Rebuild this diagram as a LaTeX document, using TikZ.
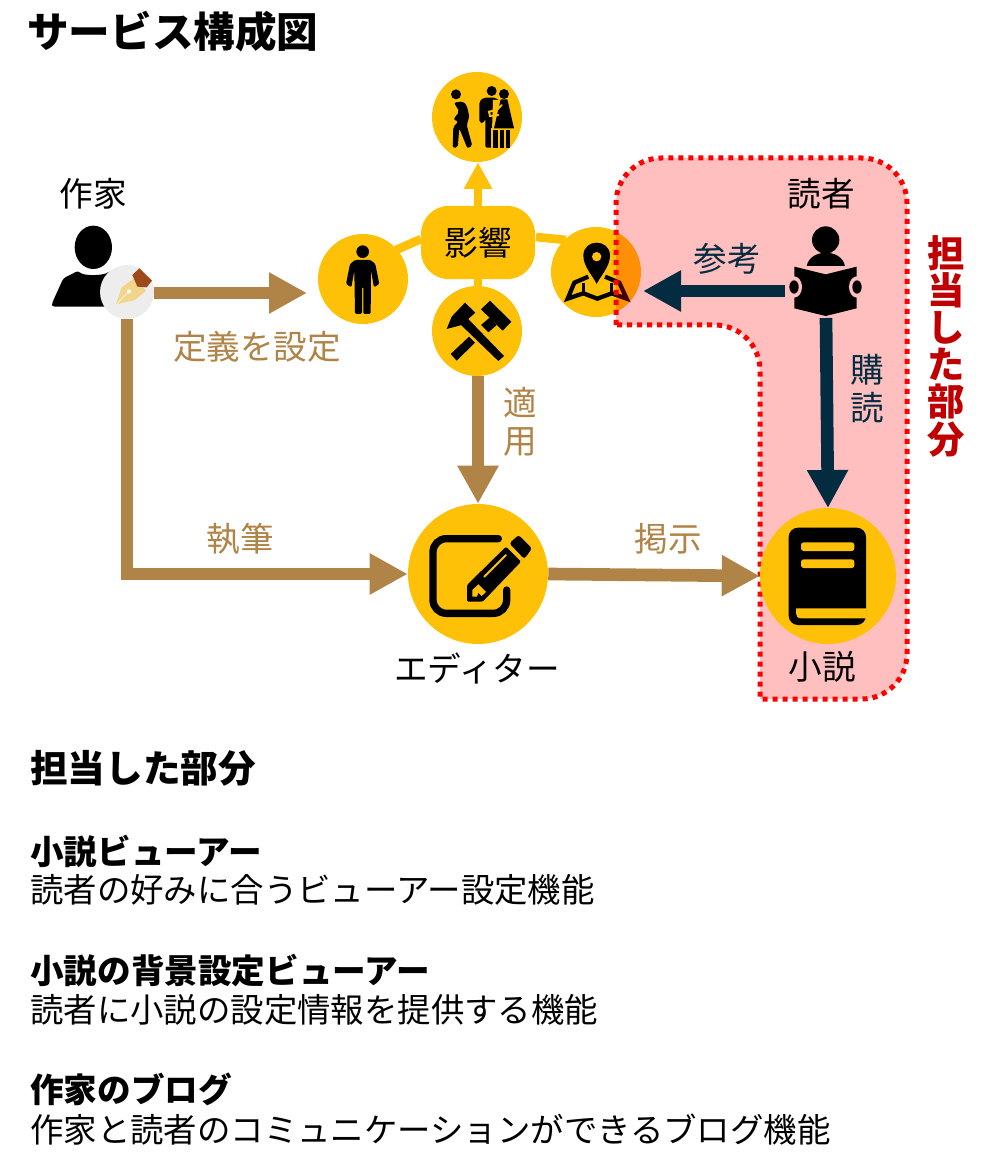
\documentclass[tikz,border=0pt]{standalone}
\usepackage{fontspec}
\setmainfont{Noto Sans CJK JP}
\usetikzlibrary{arrows.meta}
\definecolor{ambr}{HTML}{FFC107}
\definecolor{brn}{HTML}{B08346}
\definecolor{navy}{HTML}{042C40}
\definecolor{dred}{HTML}{C00000}
\definecolor{pinkop}{HTML}{FFBFBF}
\tikzset{
  disc/.style={circle,fill=ambr,inner sep=0pt,minimum size=67.5pt},
  brnline/.style={draw=brn,line width=9.5pt,-{Triangle[length=28.5pt,width=29pt]}},
  navline/.style={draw=navy,line width=9.5pt,-{Triangle[length=28.5pt,width=29pt]}},
  ambline/.style={draw=ambr,line width=6.5pt},
  lbl/.style={font=\fontsize{25.2pt}{28.5pt}\selectfont,inner sep=0pt,align=center},
  body/.style={font=\fontsize{25.05pt}{28pt}\selectfont,inner sep=0pt,anchor=west},
  sub/.style={font=\fontsize{25.2pt}{30pt}\selectfont\bfseries,inner sep=0pt,anchor=west},
  crop/.style={x=0.25pt,y=-0.25pt}
}
\begin{document}
\begin{tikzpicture}[x=0.75pt,y=-0.75pt]
\useasboundingbox (0,0) rectangle (984,1176);
% title
\node[font=\fontsize{31.2pt}{36pt}\selectfont\bfseries,inner sep=0pt,anchor=west] (title) at (27,32) {サービス構成図};
% discs under the highlight
\node[disc] (people) at (477,117) {};
\node[disc] (person) at (363,279) {};
\node[disc] (tools) at (477,331) {};
\node[disc] (map) at (596,272) {};
\node[fill=ambr,rounded corners=21pt,minimum width=85.5pt,minimum height=55pt,inner sep=0pt,font=\fontsize{25.2pt}{29pt}\selectfont] (infl) at (478,242.5) {影響};
\coordinate (infA) at (396,250);
\coordinate (infB) at (421,239);
\coordinate (infC) at (536,237);
\coordinate (infD) at (566,240);
\draw[ambline] (infA) -- (infB);
\draw[ambline] (infC) -- (infD);
\draw[ambline] (infl.south) -- (infl.south |- tools.north);
\draw[draw=ambr,line width=6.5pt,-{Triangle[length=20pt,width=20pt]}] (infl.north) -- (infl.north |- people.south);
% people icon
\begin{scope}[shift={(310,60)},crop]
\fill (438,103) circle (15);
\fill[rounded corners=1.5pt] (432,128) -- (458,124) -- (470,135) -- (478,170) -- (470,195) -- (487,258) -- (472,265) -- (448,205) -- (443,263) -- (428,263) -- (430,200) -- (445,185) -- (430,178) -- (448,155) -- cycle;
\fill (545,93) circle (15);
\fill (582,102) circle (15);
\fill[rounded corners=1.5pt] (508,188) -- (508,125) -- (520,113) -- (558,113) -- (570,125) -- (560,210) -- (563,263) -- (526,263) -- (526,175) -- (521,190) -- cycle;
\fill[ambr] (549,120) -- (546,212) -- (604,212) -- (604,205) -- (590,120) -- cycle;
\fill (572,118) -- (592,118) -- (612,205) -- (552,205) -- cycle;
\fill[ambr] (544,205) rectangle (548,263);
\fill (569,210) rectangle (581,263);
\fill (588,210) rectangle (600,263);
\fill (550,210) rectangle (563,263);
\draw[ambr,line width=1.5pt,line cap=round] (575,135) -- (560,150) -- (537,155) -- (540,168) -- (565,165);
\end{scope}
% person icon
\begin{scope}[shift={(310,60)},crop]
\fill (158,575) circle (19);
\fill[rounded corners=1pt] (135,600) -- (182,600) -- (196,612) -- (208,672) -- (192,682) -- (183,632) -- (182,762) -- (160,762) -- (160,680) -- (156,680) -- (156,762) -- (135,762) -- (133,632) -- (124,682) -- (108,672) -- (120,612) -- cycle;
\end{scope}
% tools icon
\begin{scope}[shift={(310,60)},crop]
\fill (422,882) -- (440,902) -- (495,848) -- (477,830) -- cycle;
\fill (513,795) -- (535,817) -- (560,795) -- (540,772) -- cycle;
\fill (540,722) -- (604,785) -- (578,812) -- (513,748) -- cycle;
\fill (468,770) -- (582,888) -- (565,903) -- (450,792) -- cycle;
\fill (410,807) -- (425,770) -- (465,728) -- (496,758) -- (455,795) -- cycle;
\end{scope}
% map icon
\begin{scope}[shift={(310,60)},crop]
\fill (820,587) .. controls (820,535) and (900,535) .. (900,587) .. controls (900,620) and (870,650) .. (860,672) .. controls (850,650) and (820,620) .. (820,587) -- cycle;
\fill[ambr] (860,590) circle (14);
\draw[line width=3.2pt,line join=miter] (835,650) -- (793,668) -- (773,716) -- (820,700) -- (862,716) -- (905,700) -- (950,716) -- (928,668) -- (885,650);
\draw[line width=2pt] (820,670) -- (820,700);
\draw[line width=2pt] (905,670) -- (905,700);
\end{scope}
% highlighted area
\path[draw=red,line width=3.75pt,dash pattern=on 3.75pt off 3.75pt,fill=red,fill opacity=0.25,draw opacity=1]
  [sharp corners] (616,325) [rounded corners=34pt] -- (616,158) -- (907,158) -- (907,699) [sharp corners] -- (760,699) [rounded corners=34pt] -- (760,325) [sharp corners] -- cycle;
% writer
\node[lbl] (writerlbl) at (93,194) {作家};
\begin{scope}[shift={(30,60)},crop]
\fill (190,562) ellipse (56 and 65);
\fill[rounded corners=2pt] (66,740) -- (66,730) -- (100,655) -- (145,632) .. controls (160,648) and (220,648) .. (240,632) -- (270,655) -- (270,740) -- cycle;
\end{scope}
\node[circle,fill=black!7,inner sep=0pt,minimum size=40.5pt] (pen) at (127,292) {};
\begin{scope}[shift={(30,60)},crop]
\fill[fill={rgb,255:red,240;green,213;blue,138}] (258,733) -- (275,682) -- (312,655) -- (348,692) -- (315,720) -- cycle;
\fill[fill={rgb,255:red,156;green,74;blue,26}] (307,645) -- (328,625) -- (366,662) -- (350,682) -- (322,680) -- cycle;
\fill[white] (297,694) circle (6);
\draw[white,line width=0.4pt] (262,730) -- (297,694);
\end{scope}
% reader
\node[lbl] (readerlbl) at (821,194) {読者};
\begin{scope}[shift={(600,140)},crop]
\fill (677,300) circle (41);
\fill (620,378) .. controls (630,325) and (725,325) .. (735,378) -- cycle;
\fill (583,380) -- (677,403) -- (770,380) -- (770,505) -- (677,528) -- (583,505) -- cycle;
\fill[pinkop] (582,441) ellipse (24 and 32);
\fill[pinkop] (771,441) ellipse (24 and 32);
\fill (582,441) ellipse (14 and 20);
\fill (771,441) ellipse (14 and 20);
\end{scope}
\node[inner sep=0pt,minimum width=57.75pt,minimum height=40.5pt] (reader) at (823.5,291) {};
% editor and book
\node[disc,minimum size=105pt] (editor) at (478,574) {};
\node[disc,minimum size=102pt] (book) at (828,576) {};
\begin{scope}[shift={(391,490)},crop]
\draw[line width=5.5pt,line cap=round,rounded corners=10pt] (322,146) -- (126,146) -- (126,370) -- (347,370) -- (347,300);
\fill[rounded corners=1pt] (228,335) -- (228,285) -- (345,170) -- (390,215) -- (275,335) -- cycle;
\fill[rounded corners=2pt] (355,160) -- (383,135) -- (423,175) -- (400,207) -- cycle;
\draw[ambr,line width=1.5pt,line cap=round] (280,260) -- (345,195);
\fill[ambr] (244,300) -- (262,283) -- (285,306) -- (272,318) -- (262,308) -- (258,320) -- (244,320) -- cycle;
\end{scope}
\begin{scope}[shift={(396,490)},crop]
\fill[rounded corners=7pt] (1178,113) rectangle (1410,405);
\fill[ambr,rounded corners=2pt] (1215,157) rectangle (1375,183);
\fill[ambr,rounded corners=2pt] (1215,208) rectangle (1375,234);
\fill[ambr] (1200,355) -- (1412,355) -- (1412,385) -- (1215,385) .. controls (1205,385) and (1200,378) .. (1200,370) -- cycle;
\end{scope}
% connectors
\coordinate (p1end) at (307,293);
\coordinate (p1start) at (154,293);
\draw[brnline] (p1start) -- (p1end);
\draw[brnline,line join=miter] (pen.south) |- (editor.west);
\draw[brnline] (editor.north |- tools.south) -- (editor.north);
\draw[brnline] (editor.east) -- (book.west);
\coordinate (mapend) at (643,291);
\coordinate (bookend) at (828,508);
\coordinate (readbot) at (826,318);
\draw[navline] (reader.west) -- (mapend);
\draw[navline] (readbot) -- (bookend);
% labels
\node[lbl,text=brn] (l1) at (257,347) {定義を設定};
\node[lbl,text=brn] (l2) at (520,422) {適\\用};
\node[lbl,text=brn] (l3) at (240,539) {執筆};
\node[lbl,text=brn] (l4) at (668,539) {掲示};
\node[lbl,text=navy] (l5) at (727,259) {参考};
\node[lbl,text=navy] (l6) at (867,389) {購\\読};
\node[lbl] (l7) at (477,668) {エディター};
\node[lbl] (l8) at (822,667) {小説};
\node[lbl,text=dred,font=\fontsize{28pt}{27.9pt}\selectfont\bfseries] (l9) at (946,346) {担\\当\\し\\た\\部\\分};
% lower text
\node[font=\fontsize{28.2pt}{33pt}\selectfont\bfseries,inner sep=0pt,anchor=west] (h0) at (30,768) {担当した部分};
\node[sub] (s1) at (30,851) {小説ビューアー};
\node[body] (b1) at (30,890) {読者の好みに合うビューアー設定機能};
\node[sub] (s2) at (30,971) {小説の背景設定ビューアー};
\node[body] (b2) at (30,1010) {読者に小説の設定情報を提供する機能};
\node[sub] (s3) at (30,1089) {作家のブログ};
\node[body] (b3) at (30,1130) {作家と読者のコミュニケーションができるブログ機能};
\end{tikzpicture}
\end{document}
